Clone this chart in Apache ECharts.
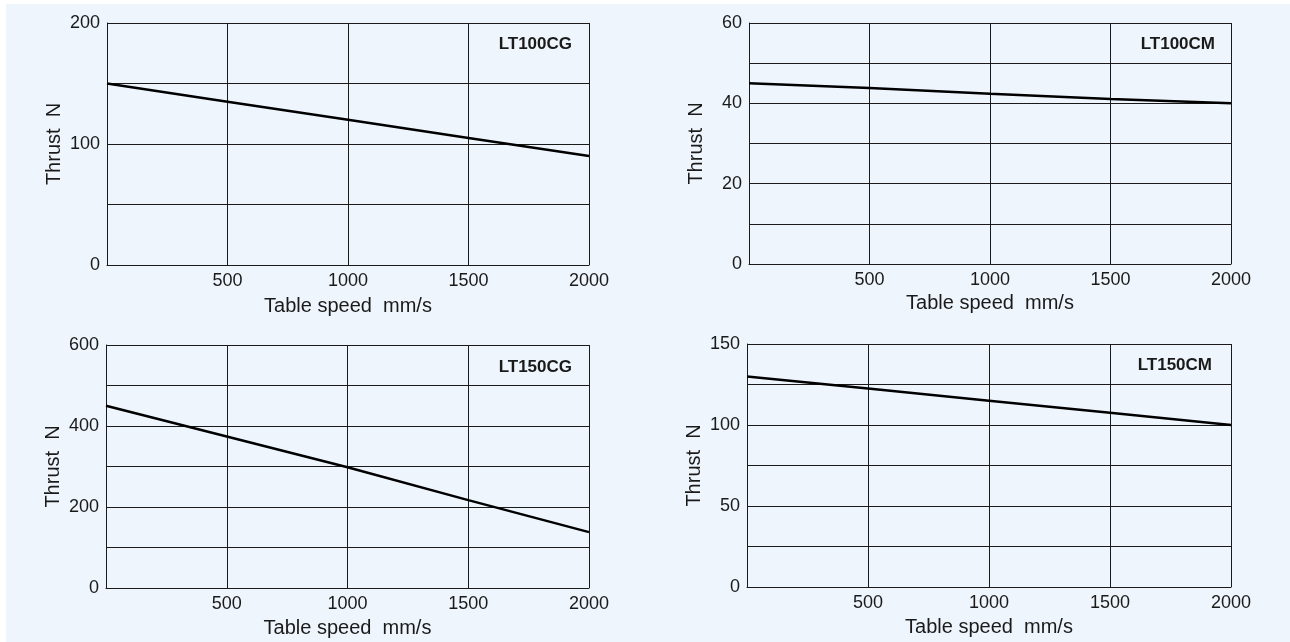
<!DOCTYPE html>
<html>
<head>
<meta charset="utf-8">
<script src="https://cdn.jsdelivr.net/npm/echarts@6/dist/echarts.min.js"></script>
<style>
html,body{margin:0;padding:0;background:#fff;}
#c{width:1290px;height:642px;}
</style>
</head>
<body>
<div id="c"></div>
<script>
// ---- data ----
const speeds = [0, 500, 1000, 1500, 2000];
const lt100cg = [150, 135, 120, 105, 90];
const lt100cm = [45, 43.8, 42.4, 41.1, 40];
const lt150cg = [450, 374, 298, 217, 138];
const lt150cm = [130, 122.5, 115, 107.5, 100];
const modelNames = ['LT100CG', 'LT100CM', 'LT150CG', 'LT150CM'];
const yMax = [200, 60, 600, 150];
const yGridStep = [50, 10, 100, 25];
const yLabelStep = [100, 20, 200, 50];
const xMax = 2000;
const xStep = 500;
const xName = 'Table speed  mm/s';
const yName = 'Thrust  N';

// ---- layout ----
const grids = [
  {left: 107, top: 23, width: 482, height: 242},
  {left: 749, top: 23, width: 482, height: 241},
  {left: 106, top: 345, width: 483, height: 243},
  {left: 747, top: 344, width: 484, height: 243}
];
const xNameGap = [31, 29, 30, 30];
const titlePos = [
  {right: 718, top: 36},
  {right: 75, top: 36},
  {right: 718, top: 359},
  {right: 78, top: 357}
];
const seriesData = [lt100cg, lt100cm, lt150cg, lt150cm];
const font = 'Liberation Sans, Arial, sans-serif';
const ink = '#1a1a1a';

const chart = echarts.init(document.getElementById('c'), null, {renderer: 'canvas'});
const option = {
  backgroundColor: '#EEF5FC',
  animation: false,
  graphic: [
    {type: 'rect', left: 0, top: 0, shape: {width: 6, height: 642}, style: {fill: '#ffffff'}, silent: true},
    {type: 'rect', left: 0, top: 0, shape: {width: 1290, height: 4}, style: {fill: '#ffffff'}, silent: true}
  ],
  title: modelNames.map((n, i) => ({
    text: n, right: titlePos[i].right, top: titlePos[i].top, padding: 0,
    textStyle: {fontFamily: font, fontSize: 17, fontWeight: 'bold', color: ink}
  })),
  grid: grids.map(g => Object.assign({containLabel: false}, g)),
  xAxis: grids.map((g, i) => ({
    type: 'value', gridIndex: i, min: 0, max: xMax, interval: xStep,
    name: xName, nameLocation: 'middle', nameGap: xNameGap[i],
    nameTextStyle: {fontFamily: font, fontSize: 20, color: ink},
    axisLine: {show: true, lineStyle: {color: ink, width: 1}},
    axisTick: {show: false},
    axisLabel: {showMinLabel: false, fontFamily: font, fontSize: 18, color: ink, margin: 7,
      formatter: v => String(v)},
    splitLine: {show: true, lineStyle: {color: ink, width: 1}}
  })),
  yAxis: grids.map((g, i) => ({
    type: 'value', gridIndex: i, min: 0, max: yMax[i], interval: yGridStep[i],
    name: yName, nameLocation: 'middle', nameGap: 43, nameRotate: 90,
    nameTextStyle: {fontFamily: font, fontSize: 20, color: ink},
    axisLine: {show: true, lineStyle: {color: ink, width: 1}},
    axisTick: {show: false},
    axisLabel: {
      fontFamily: font, fontSize: 18, color: ink, margin: 7,
      formatter: v => (Math.round(v) % yLabelStep[i] === 0 ? String(v) : '')
    },
    splitLine: {show: true, lineStyle: {color: ink, width: 1}}
  })),
  series: seriesData.map((d, i) => ({
    type: 'line', xAxisIndex: i, yAxisIndex: i,
    data: speeds.map((s, k) => [s, d[k]]),
    showSymbol: false, smooth: false,
    lineStyle: {color: '#000', width: 2.5},
    z: 5
  }))
};
chart.setOption(option);
</script>
</body>
</html>
